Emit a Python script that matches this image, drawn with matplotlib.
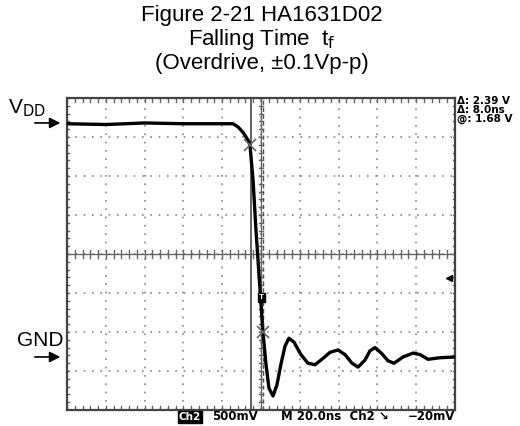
import numpy as np
import matplotlib.pyplot as plt

# oscilloscope trace (time in ns, level in V)
t_ns = [0, 20, 40, 60, 85.6, 88.1, 90.7, 93.3, 94.3, 95.9, 97.4, 99.5, 101.0,
        102.6, 104.1, 106.2, 108.2, 110.3, 112.4, 114.4, 117.0, 120.6, 124.2,
        127.8, 131.4, 135.6, 139.7, 143.3, 146.9, 150.0, 153.6, 156.2, 158.8,
        162.4, 165.5, 168.6, 173.2, 178.4, 182.0, 186.1, 192.3, 200]
v_out = [2.99, 2.98, 3.00, 2.99, 2.99, 2.95, 2.88, 2.78, 2.72, 2.27, 1.63,
         0.86, 0.32, -0.10, -0.40, -0.50, -0.36, -0.09, 0.14, 0.24, 0.19,
         0.03, -0.08, -0.10, -0.03, 0.06, 0.09, 0.03, -0.08, -0.13, -0.04,
         0.08, 0.12, 0.04, -0.05, -0.08, 0.00, 0.05, 0.03, -0.03, -0.01, 0.00]

cursor_t = [94.6, 101.0]          # vertical cursors
cross_t = [94.3, 101.0]           # X markers on trace
cross_v = [2.72, 0.32]
vdd = 3.0
gnd = 0.0
trig_v = 1.01

readout = ['Δ: 2.39 V', 'Δ: 8.0ns', '@: 1.68 V']

# screen: 10 x 20ns, 8 x 0.5V
t0, t1 = 0, 200
v0, v1 = -0.68, 3.32
tdiv, vdiv = 20, 0.5

fig = plt.figure(figsize=(5.2, 4.26), dpi=100)
plt.rcParams['font.family'] = ['Liberation Sans', 'DejaVu Sans']
ax = fig.add_axes([67/520, 16/426, 388/520, 312/426])
ax.set_xlim(t0, t1)
ax.set_ylim(v0, v1)
ax.set_xticks([])
ax.set_yticks([])
for s in ax.spines.values():
    s.set_color('#444444')
    s.set_linewidth(1.6)

# dotted graticule
for i in range(1, 10):
    ax.axvline(t0 + i*tdiv, color='#888888', lw=1.2, ls=(0, (1, 4)), zorder=1)
for i in range(1, 8):
    ax.axhline(v0 + i*vdiv, color='#888888', lw=1.2, ls=(0, (1, 4)), zorder=1)

# centre lines with minor ticks, edge ticks
tc = (t0 + t1)/2
vc = v0 + 4*vdiv
ax.axhline(vc, color='#666666', lw=1.0, zorder=1)
ax.axvline(tc, color='#666666', lw=1.0, zorder=1)
tm = np.arange(t0, t1 + 0.01, tdiv/5)
vm = np.arange(v0, v1 + 0.001, vdiv/5)
dv = 0.05
dt = 1.0
for x in tm:
    ax.plot([x, x], [vc - dv, vc + dv], color='#666666', lw=1.0, zorder=1)
    ax.plot([x, x], [v0, v0 + dv], color='#666666', lw=1.0, zorder=1)
    ax.plot([x, x], [v1 - dv, v1], color='#666666', lw=1.0, zorder=1)
for y in vm:
    ax.plot([tc - dt, tc + dt], [y, y], color='#666666', lw=1.0, zorder=1)
    ax.plot([t0, t0 + dt], [y, y], color='#666666', lw=1.0, zorder=1)
    ax.plot([t1 - dt, t1], [y, y], color='#666666', lw=1.0, zorder=1)

# cursors
ax.axvline(cursor_t[0], color='#555555', lw=1.3, zorder=2)
ax.axvline(cursor_t[1], color='#555555', lw=1.0, ls=(0, (3, 2)), zorder=2)

# trace
ax.plot(t_ns, v_out, color='black', lw=2.4, zorder=3)
ax.plot(cross_t, cross_v, 'x', color='#666666', ms=9, mew=1.2, zorder=4)

# trigger markers
ax.text(100.3, 0.76, 'T', color='white', fontsize=6, fontweight='bold',
        ha='center', va='center', zorder=5,
        bbox=dict(boxstyle='square,pad=0.15', fc='black', ec='black'))
ax.plot([t1 - 3], [trig_v], marker='<', color='black', ms=5, clip_on=False, zorder=5)

# V_DD / GND arrows
arrow = dict(arrowstyle='-|>', color='black', lw=1.2, mutation_scale=16)
ax.annotate('', xy=(-0.01, vdd), xycoords=('axes fraction', 'data'),
            xytext=(-0.09, vdd), textcoords=('axes fraction', 'data'),
            arrowprops=arrow, annotation_clip=False)
ax.annotate('', xy=(-0.01, gnd), xycoords=('axes fraction', 'data'),
            xytext=(-0.09, gnd), textcoords=('axes fraction', 'data'),
            arrowprops=arrow, annotation_clip=False)
fig.text(27/520, 1 - 108/426, r'V$_{\mathrm{DD}}$', fontsize=15, ha='center', va='center')
fig.text(40/520, 1 - 341/426, 'GND', fontsize=15, ha='center', va='center')

# title
fig.text(0.503, 1 - 16/426, 'Figure 2-21 HA1631D02', fontsize=16, ha='center', va='center')
fig.text(0.503, 1 - 40/426, r'Falling Time  t$_{\mathrm{f}}$', fontsize=16, ha='center', va='center')
fig.text(0.503, 1 - 64/426, '(Overdrive, ±0.1Vp-p)', fontsize=16, ha='center', va='center')

# scope readouts
for i, s in enumerate(readout):
    fig.text(457/520, 1 - (101 + 9*i)/426, s, fontsize=7.5, fontweight='bold',
             family='DejaVu Sans', ha='left', va='center')
fig.text(190/520, 1 - 417/426, 'Ch2', fontsize=7.5, fontweight='bold', color='white',
         family='DejaVu Sans', ha='center', va='center',
         bbox=dict(boxstyle='square,pad=0.1', fc='black', ec='black'))
fig.text(258/520, 1 - 417/426, '500mV', fontsize=8.5, fontweight='bold',
         family='DejaVu Sans', ha='right', va='center')
fig.text(281/520, 1 - 417/426, 'M 20.0ns  Ch2 \u2198', fontsize=8.5, fontweight='bold',
         family='DejaVu Sans', ha='left', va='center')
fig.text(455/520, 1 - 417/426, '\u221220mV', fontsize=8.5, fontweight='bold',
         family='DejaVu Sans', ha='right', va='center')

fig.savefig('out.png', dpi=100)
